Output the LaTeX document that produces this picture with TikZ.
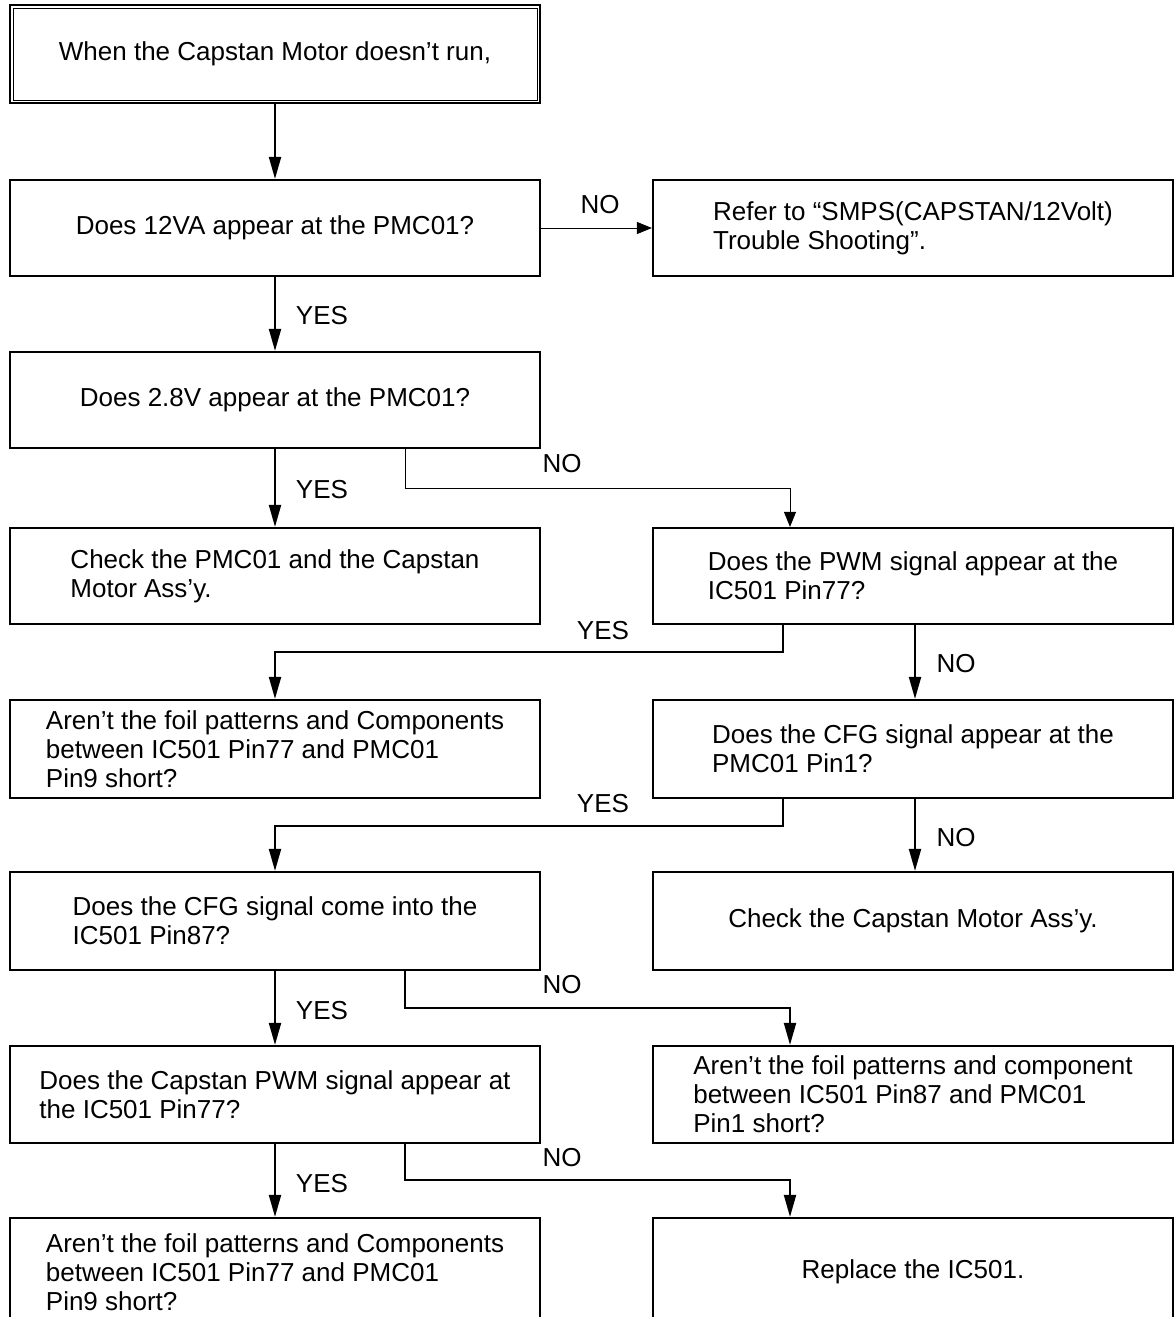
\documentclass[tikz,border=0pt]{standalone}
\usepackage{fontspec}
\setmainfont{Liberation Sans}
\usetikzlibrary{arrows.meta,calc}
\begin{document}
\begin{tikzpicture}[x=1pt,y=-1pt,
  box/.style={draw,line width=2.2pt,inner sep=0pt,align=left,
    font=\fontsize{26}{29}\selectfont},
  lbox/.style={box,minimum width=530pt},
  rbox/.style={box,minimum width=520pt},
  lbl/.style={inner sep=0pt,font=\fontsize{26}{29}\selectfont},
  thick arr/.style={line width=2pt,-{Triangle[length=22pt,width=12pt]}},
  thin arr/.style={line width=1pt,-{Triangle[length=15pt,width=12pt]}},
  thickline/.style={line width=2pt}]
\useasboundingbox (0,0) rectangle (1173,1317);
% boxes
\node[lbox,minimum height=98pt] (A) at (275,54) {When the Capstan Motor doesn’t run,};
\draw[line width=0.8pt] ([shift={(4pt,-4pt)}]A.north west) rectangle ([shift={(-4pt,4pt)}]A.south east);
\node[lbox,minimum height=96pt] (B) at (275,228) {Does 12VA appear at the PMC01?};
\node[rbox,minimum height=96pt] (C) at (913,228) {Refer to “SMPS(CAPSTAN/12Volt)\\Trouble Shooting”.};
\node[lbox,minimum height=96pt] (D) at (275,400) {Does 2.8V appear at the PMC01?};
\node[lbox,minimum height=96pt] (E) at (275,576) {Check the PMC01 and the Capstan\\Motor Ass’y.};
\node[rbox,minimum height=96pt] (F) at (913,576) {Does the PWM signal appear at the\\IC501 Pin77?};
\node[lbox,minimum height=98pt] (G) at (275,749) {Aren’t the foil patterns and Components\\between IC501 Pin77 and PMC01\\Pin9 short?};
\node[rbox,minimum height=98pt] (H) at (913,749) {Does the CFG signal appear at the\\PMC01 Pin1?};
\node[lbox,minimum height=98pt] (I) at (275,921) {Does the CFG signal come into the\\IC501 Pin87?};
\node[rbox,minimum height=98pt] (J) at (913,921) {Check the Capstan Motor Ass’y.};
\node[lbox,minimum height=97pt] (K) at (275,1094.5) {Does the Capstan PWM signal appear at\\the IC501 Pin77?};
\node[rbox,minimum height=97pt] (L) at (913,1094.5) {Aren’t the foil patterns and component\\between IC501 Pin87 and PMC01\\Pin1 short?};
\node[lbox,minimum height=108pt] (M) at (275,1272) {Aren’t the foil patterns and Components\\between IC501 Pin77 and PMC01\\Pin9 short?};
\node[rbox,minimum height=108pt] (N) at (913,1272) {Replace the IC501.};
% connectors
\draw[thick arr] (A.south) -- (B.north);
\draw[thin arr] (B.east) -- (C.west);
\node[lbl] (nB) at (600,205) {NO};
\draw[thick arr] (B.south) -- (D.north);
\node[lbl] (yB) at (322,316) {YES};
\draw[thick arr] (D.south) -- (E.north);
\node[lbl] (yD) at (322,490) {YES};
\draw[thin arr] ([xshift=130pt]D.south) |- (790,488) -- ([xshift=-123pt]F.north);
\node[lbl] (nD) at (562,464) {NO};
\draw[thick arr] ([xshift=-130pt]F.south) |- (275,652) -- (G.north);
\node[lbl] (yF) at (603,631) {YES};
\draw[thick arr] ([xshift=2pt]F.south) -- ([xshift=2pt]H.north);
\node[lbl] (nF) at (956,664) {NO};
\draw[thick arr] ([xshift=-130pt]H.south) |- (275,826) -- (I.north);
\node[lbl] (yH) at (603,804) {YES};
\draw[thick arr] ([xshift=2pt]H.south) -- ([xshift=2pt]J.north);
\node[lbl] (nH) at (956,838) {NO};
\draw[thick arr] (I.south) -- (K.north);
\node[lbl] (yI) at (322,1011) {YES};
\draw[thick arr] ([xshift=130pt]I.south) |- (790,1008) -- ([xshift=-123pt]L.north);
\node[lbl] (nI) at (562,985) {NO};
\draw[thick arr] (K.south) -- (M.north);
\node[lbl] (yK) at (322,1184) {YES};
\draw[thick arr] ([xshift=130pt]K.south) |- (790,1180) -- ([xshift=-123pt]N.north);
\node[lbl] (nK) at (562,1158) {NO};
\end{tikzpicture}
\end{document}
